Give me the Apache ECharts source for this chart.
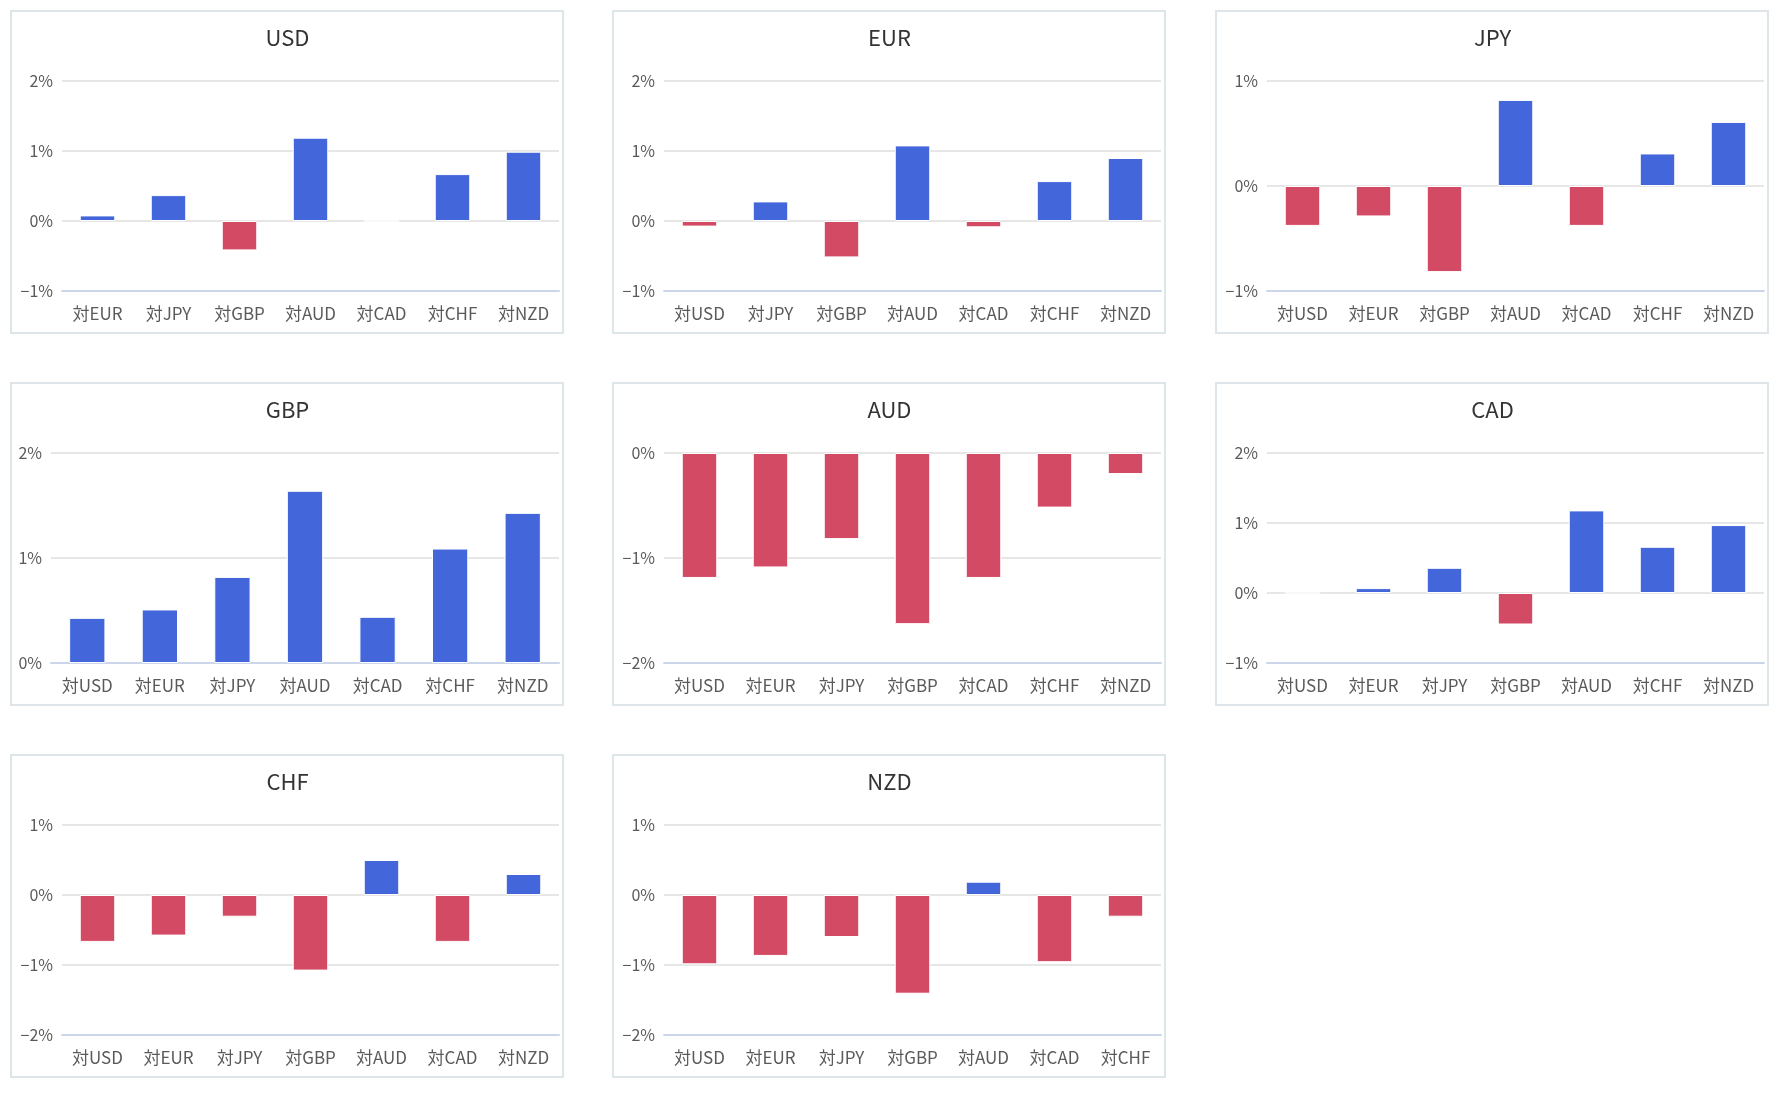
<!DOCTYPE html>
<html>
<head>
<meta charset="utf-8">
<style>
  html, body { margin: 0; padding: 0; background: #ffffff; }
  #chart { width: 1782px; height: 1098px; }
</style>
<script src="https://cdn.jsdelivr.net/npm/echarts@6/dist/echarts.min.js"></script>
</head>
<body>
<div id="chart"></div>
<script>
// ---- data ----
const panelTitles = ['USD', 'EUR', 'JPY', 'GBP', 'AUD', 'CAD', 'CHF', 'NZD'];

const catsUSD = ['対EUR', '対JPY', '対GBP', '対AUD', '対CAD', '対CHF', '対NZD'];
const catsEUR = ['対USD', '対JPY', '対GBP', '対AUD', '対CAD', '対CHF', '対NZD'];
const catsJPY = ['対USD', '対EUR', '対GBP', '対AUD', '対CAD', '対CHF', '対NZD'];
const catsGBP = ['対USD', '対EUR', '対JPY', '対AUD', '対CAD', '対CHF', '対NZD'];
const catsAUD = ['対USD', '対EUR', '対JPY', '対GBP', '対CAD', '対CHF', '対NZD'];
const catsCAD = ['対USD', '対EUR', '対JPY', '対GBP', '対AUD', '対CHF', '対NZD'];
const catsCHF = ['対USD', '対EUR', '対JPY', '対GBP', '対AUD', '対CAD', '対NZD'];
const catsNZD = ['対USD', '対EUR', '対JPY', '対GBP', '対AUD', '対CAD', '対CHF'];

const valsUSD = [0.08, 0.37, -0.42, 1.19, 0, 0.67, 0.99];
const valsEUR = [-0.08, 0.28, -0.52, 1.08, -0.09, 0.57, 0.90];
const valsJPY = [-0.38, -0.29, -0.82, 0.82, -0.38, 0.31, 0.61];
const valsGBP = [0.43, 0.51, 0.82, 1.64, 0.44, 1.09, 1.43];
const valsAUD = [-1.19, -1.09, -0.82, -1.63, -1.19, -0.52, -0.20];
const valsCAD = [0, 0.07, 0.36, -0.45, 1.18, 0.66, 0.97];
const valsCHF = [-0.67, -0.58, -0.31, -1.08, 0.50, -0.67, 0.30];
const valsNZD = [-0.99, -0.87, -0.60, -1.41, 0.19, -0.96, -0.31];

// y-axis tick values (%)
const ticksUSD = [-1, 0, 1, 2];
const ticksEUR = [-1, 0, 1, 2];
const ticksJPY = [-1, 0, 1];
const ticksGBP = [0, 1, 2];
const ticksAUD = [-2, -1, 0];
const ticksCAD = [-1, 0, 1, 2];
const ticksCHF = [-2, -1, 0, 1];
const ticksNZD = [-2, -1, 0, 1];

// ---- assembly ----
const allCats = [catsUSD, catsEUR, catsJPY, catsGBP, catsAUD, catsCAD, catsCHF, catsNZD];
const allVals = [valsUSD, valsEUR, valsJPY, valsGBP, valsAUD, valsCAD, valsCHF, valsNZD];
const allTicks = [ticksUSD, ticksEUR, ticksJPY, ticksGBP, ticksAUD, ticksCAD, ticksCHF, ticksNZD];

const POS_COLOR = '#4367DB';
const NEG_COLOR = '#D34A64';
const FONT = '"Noto Sans CJK JP", "Noto Sans", sans-serif';

const colX = [11, 613, 1216];
const rowY = [11, 383, 755];
const panelW = 553, panelH = 322;

const titles = [], grids = [], xAxes = [], yAxes = [], series = [], graphics = [];

panelTitles.forEach((name, i) => {
  const px = colX[i % 3];
  const py = rowY[Math.floor(i / 3)];
  const ticks = allTicks[i];
  const yMin = ticks[0], yMax = ticks[ticks.length - 1];
  const leftOff = yMin < 0 ? 51 : 40;

  graphics.push({
    type: 'rect',
    shape: { x: px, y: py, width: panelW - 1, height: panelH },
    style: { fill: null, stroke: '#dfe6ea', lineWidth: 2 },
    silent: true
  });

  titles.push({
    text: name,
    left: px + panelW / 2,
    top: py + 16,
    textAlign: 'center',
    padding: 0,
    textStyle: { fontFamily: FONT, fontSize: 22, fontWeight: 'normal', color: '#333333' }
  });

  grids.push({
    left: px + leftOff,
    top: py + 70,
    width: 548 - leftOff,
    height: 210
  });

  xAxes.push({
    type: 'category',
    gridIndex: i,
    data: allCats[i],
    axisLine: { onZero: false, lineStyle: { color: '#ccd6eb', width: 2 } },
    axisTick: { show: false },
    axisLabel: { interval: 0, color: '#5a5a5a', fontSize: 17, fontFamily: FONT, margin: 14 },
    splitLine: { show: false }
  });

  yAxes.push({
    type: 'value',
    gridIndex: i,
    min: yMin,
    max: yMax,
    interval: 1,
    axisLine: { show: false },
    axisTick: { show: false },
    axisLabel: {
      color: '#5a5a5a', fontSize: 16, fontFamily: FONT, margin: 9,
      formatter: v => (v < 0 ? '\u2212' : '') + Math.abs(v) + '%'
    },
    splitLine: { lineStyle: { color: '#e6e6e6', width: 2 } }
  });

  series.push({
    type: 'bar',
    xAxisIndex: i,
    yAxisIndex: i,
    data: allVals[i],
    barWidth: '50%',
    itemStyle: {
      color: p => (p.value >= 0 ? POS_COLOR : NEG_COLOR),
      borderColor: '#ffffff',
      borderWidth: 1
    }
  });
});

const chart = echarts.init(document.getElementById('chart'), null, { renderer: 'canvas' });
chart.setOption({
  animation: false,
  backgroundColor: '#ffffff',
  title: titles,
  grid: grids,
  xAxis: xAxes,
  yAxis: yAxes,
  series: series,
  graphic: graphics
});
</script>
</body>
</html>
